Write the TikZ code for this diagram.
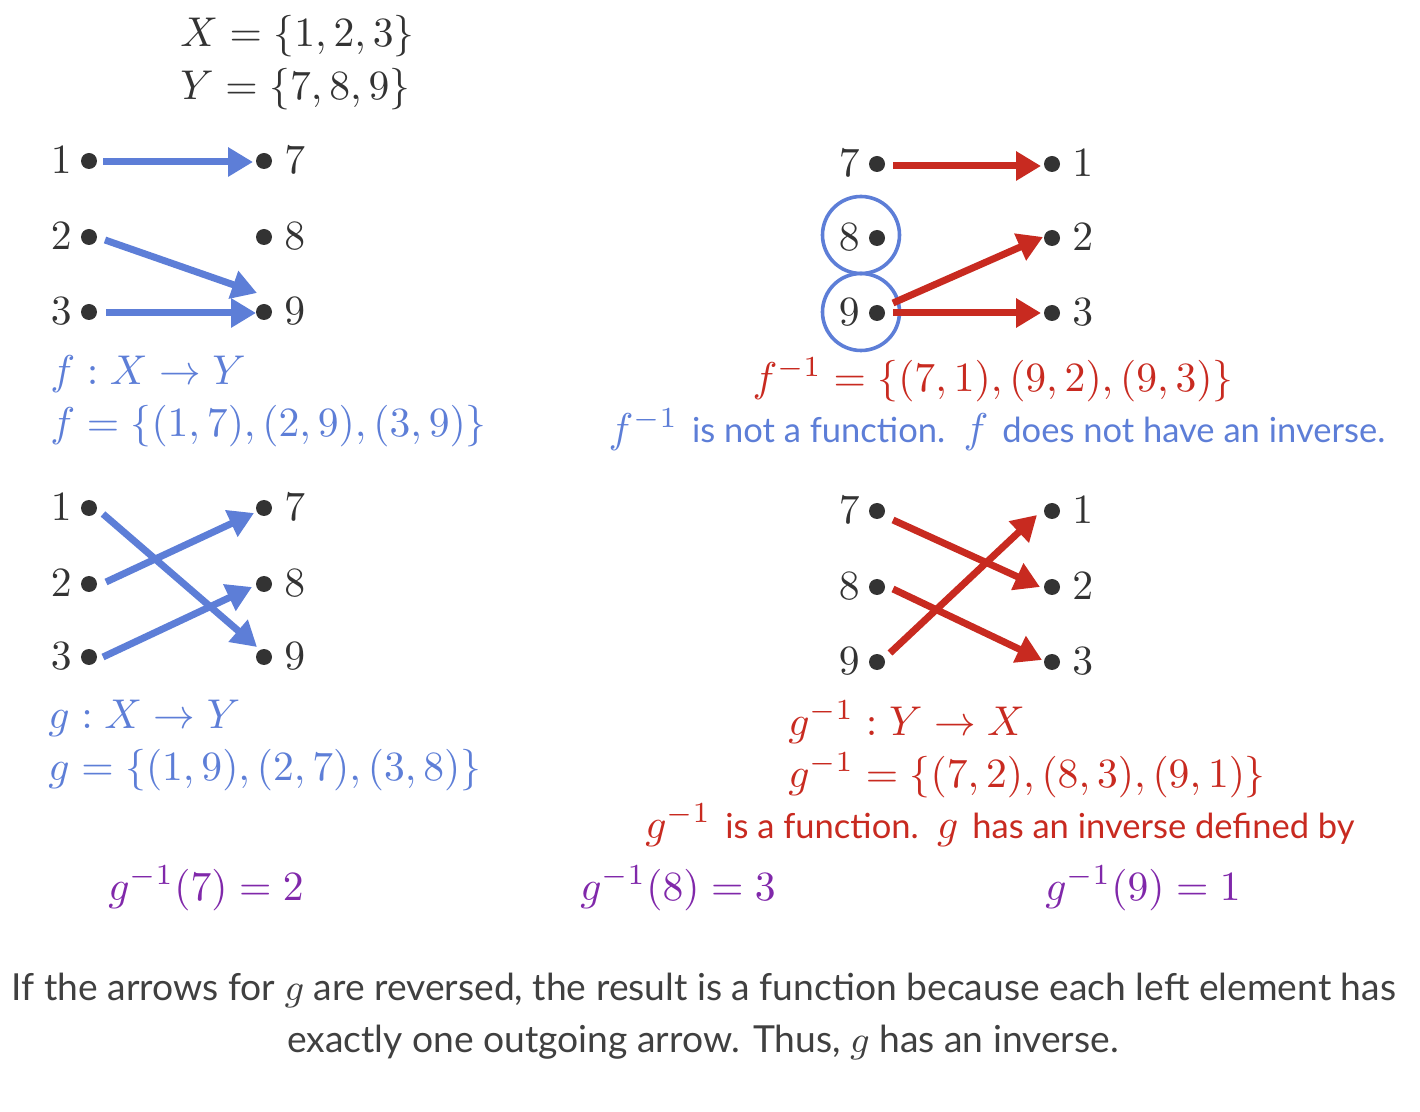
\documentclass[tikz,border=0pt]{standalone}
\usepackage{graphicx}
\usepackage[no-math]{fontspec}
\newfontfamily\sanstxt{Lato}
\usetikzlibrary{arrows.meta,calc}
\definecolor{fblue}{RGB}{93,126,215}
\definecolor{fred}{RGB}{200,42,32}
\definecolor{fpurple}{RGB}{128,40,170}
\definecolor{dotc}{RGB}{51,51,51}
\definecolor{txtgray}{RGB}{64,64,64}
\newcommand{\smx}[1]{\scalebox{2.08}{#1}}
\begin{document}
\begin{tikzpicture}[x=0.5pt,y=-0.5pt,
  dotn/.style={circle,fill=dotc,inner sep=0pt,minimum size=8pt},
  lab/.style={inner sep=0pt,text=dotc},
  labl/.style={lab,anchor=east,xshift=-8.5pt,yshift=0.5pt},
  labr/.style={lab,anchor=west,xshift=10pt,yshift=0.5pt},
  mtxt/.style={inner sep=0pt,anchor=base west},
  stxt/.style={inner sep=0pt,anchor=base},
  arr/.style={line width=3.5pt,-{Triangle[length=12.5pt,width=14pt]}},
  barrow/.style={arr,draw=fblue,fill=fblue},
  rarrow/.style={arr,draw=fred,fill=fred},
  ring/.style={circle,draw=fblue,line width=1.8pt,minimum size=38.5pt,inner sep=0pt}]
\useasboundingbox (0,0) rectangle (1420,1112);

% ---------- header ----------
\node[mtxt,text=dotc] (hx) at (180,47) {\smx{$X=\{1,2,3\}$}};
\node[mtxt,text=dotc] (hy) at (180,100) {\smx{$Y=\{7,8,9\}$}};

% ---------- panel A: f ----------
\node[dotn] (a1) at (89,161) {};
\node[dotn] (a2) at (89,237) {};
\node[dotn] (a3) at (89,312) {};
\node[dotn] (ar7) at (264,161) {};
\node[dotn] (ar8) at (264,237) {};
\node[dotn] (ar9) at (264,312) {};
\node[labl] (la1) at (a1) {\smx{$1$}};
\node[labl] (la2) at (a2) {\smx{$2$}};
\node[labl] (la3) at (a3) {\smx{$3$}};
\node[labr] (lar7) at (ar7) {\smx{$7$}};
\node[labr] (lar8) at (ar8) {\smx{$8$}};
\node[labr] (lar9) at (ar9) {\smx{$9$}};
\draw[barrow] ($(a1)+(14,1)$) -- ($(ar7)+(-11,1)$);
\draw[barrow] ($(a2)+(16,3)$) -- ($(ar9)+(-7,-19)$);
\draw[barrow] ($(a3)+(17,1)$) -- ($(ar9)+(-8,1)$);
\node[mtxt,text=fblue] (fa) at (50,385) {\smx{$f:X\to Y$}};
\node[mtxt,text=fblue] (fb) at (50,437) {\smx{$f=\{(1,7),(2,9),(3,9)\}$}};

% ---------- panel B: f^{-1} ----------
\node[ring] (o8) at (861,235) {};
\node[ring] (o9) at (861,312) {};
\node[dotn] (b7) at (877,164) {};
\node[dotn] (b8) at (877,238) {};
\node[dotn] (b9) at (877,313) {};
\node[dotn] (br1) at (1052,164) {};
\node[dotn] (br2) at (1052,238) {};
\node[dotn] (br3) at (1052,313) {};
\node[labl] (lb7) at (b7) {\smx{$7$}};
\node[labl] (lb8) at (b8) {\smx{$8$}};
\node[labl] (lb9) at (b9) {\smx{$9$}};
\node[labr] (lbr1) at (br1) {\smx{$1$}};
\node[labr] (lbr2) at (br2) {\smx{$2$}};
\node[labr] (lbr3) at (br3) {\smx{$3$}};
\draw[rarrow] ($(b7)+(16,2)$) -- ($(br1)+(-11,2)$);
\draw[rarrow] ($(b9)+(16,-10)$) -- ($(br2)+(-9,-1)$);
\draw[rarrow] ($(b9)+(16,0)$) -- ($(br3)+(-11,0)$);
\node[stxt,text=fred] (fi) at (993,392) {\smx{$f^{-1}=\{(7,1),(9,2),(9,3)\}$}};
\node[stxt,text=fblue] (fnot) at (997,443) {\smx{$f^{-1}$ {\sanstxt\fontsize{8.3}{10}\selectfont is not a function.} $f$ {\sanstxt\fontsize{8.3}{10}\selectfont does not have an inverse.}}};

% ---------- panel C: g ----------
\node[dotn] (c1) at (89,508) {};
\node[dotn] (c2) at (89,584) {};
\node[dotn] (c3) at (89,657) {};
\node[dotn] (cr7) at (264,508) {};
\node[dotn] (cr8) at (264,584) {};
\node[dotn] (cr9) at (264,657) {};
\node[labl] (lc1) at (c1) {\smx{$1$}};
\node[labl] (lc2) at (c2) {\smx{$2$}};
\node[labl] (lc3) at (c3) {\smx{$3$}};
\node[labr] (lcr7) at (cr7) {\smx{$7$}};
\node[labr] (lcr8) at (cr8) {\smx{$8$}};
\node[labr] (lcr9) at (cr9) {\smx{$9$}};
\draw[barrow] ($(c1)+(14,6)$) -- ($(cr9)+(-7,-10)$);
\draw[barrow] ($(c2)+(17,-2)$) -- ($(cr7)+(-10,5)$);
\draw[barrow] ($(c3)+(14,0)$) -- ($(cr8)+(-12,3)$);
\node[mtxt,text=fblue] (ga) at (48,728) {\smx{$g:X\to Y$}};
\node[mtxt,text=fblue] (gb) at (48,780) {\smx{$g=\{(1,9),(2,7),(3,8)\}$}};

% ---------- panel D: g^{-1} ----------
\node[dotn] (d7) at (877,511) {};
\node[dotn] (d8) at (877,587) {};
\node[dotn] (d9) at (877,662) {};
\node[dotn] (dr1) at (1052,511) {};
\node[dotn] (dr2) at (1052,587) {};
\node[dotn] (dr3) at (1052,662) {};
\node[labl] (ld7) at (d7) {\smx{$7$}};
\node[labl] (ld8) at (d8) {\smx{$8$}};
\node[labl] (ld9) at (d9) {\smx{$9$}};
\node[labr] (ldr1) at (dr1) {\smx{$1$}};
\node[labr] (ldr2) at (dr2) {\smx{$2$}};
\node[labr] (ldr3) at (dr3) {\smx{$3$}};
\draw[rarrow] ($(d7)+(16,9)$) -- ($(dr2)+(-12,0)$);
\draw[rarrow] ($(d8)+(16,2)$) -- ($(dr3)+(-10,-2)$);
\draw[rarrow] ($(d9)+(13,-9)$) -- ($(dr1)+(-15,4)$);
\node[mtxt,text=fred] (gia) at (788,735) {\smx{$g^{-1}:Y\to X$}};
\node[mtxt,text=fred] (gib) at (788,787) {\smx{$g^{-1}=\{(7,2),(8,3),(9,1)\}$}};
\node[stxt,text=fred] (gis) at (1000,838) {\smx{$g^{-1}$ {\sanstxt\fontsize{8.3}{10}\selectfont is a function.} $g$ {\sanstxt\fontsize{8.3}{10}\selectfont has an inverse defined by}}};

% ---------- values ----------
\node[mtxt,text=fpurple] (v7) at (108,900) {\smx{$g^{-1}(7)=2$}};
\node[mtxt,text=fpurple] (v8) at (580,900) {\smx{$g^{-1}(8)=3$}};
\node[mtxt,text=fpurple] (v9) at (1045,900) {\smx{$g^{-1}(9)=1$}};

% ---------- note ----------
\node[stxt,text=txtgray] (n1) at (704,1000) {\smx{\sanstxt\fontsize{8.95}{11}\selectfont If the arrows for $g$ are reversed, the result is a function because each left element has}};
\node[stxt,text=txtgray] (n2) at (703,1052) {\smx{\sanstxt\fontsize{8.95}{11}\selectfont exactly one outgoing arrow. Thus, $g$ has an inverse.}};
\end{tikzpicture}
\end{document}
